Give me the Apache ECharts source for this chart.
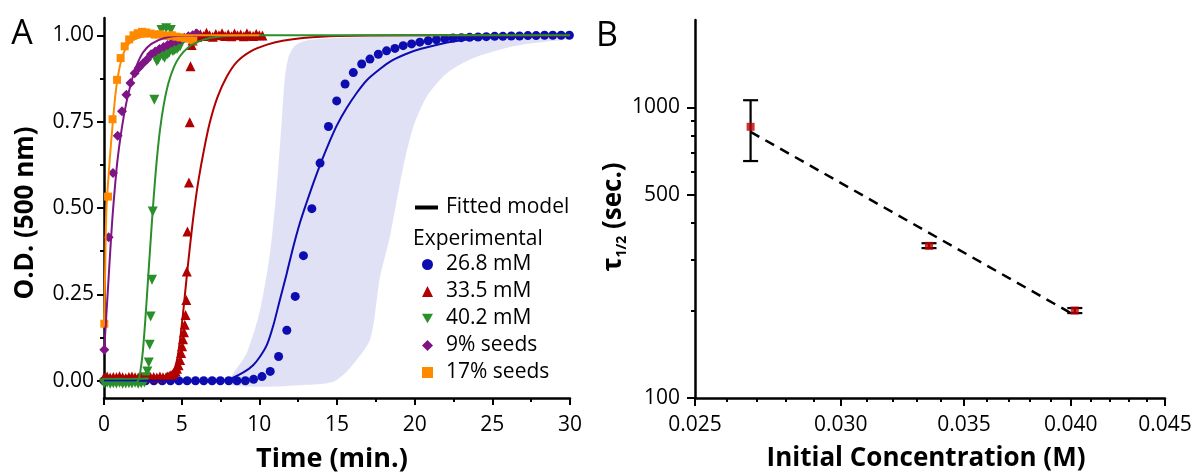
<!DOCTYPE html>
<html><head><meta charset="utf-8">
<script src="https://cdn.jsdelivr.net/npm/echarts@6/dist/echarts.min.js"></script>
<style>html,body{margin:0;padding:0;background:#fff}#c{width:1195px;height:473px}</style>
</head><body><div id="c"></div><script>
// ---------- Panel A data ----------
const seriesNames = ['26.8 mM', '33.5 mM', '40.2 mM', '9% seeds', '17% seeds'];
// 26.8 mM experimental
const blueT = [0,0.54,1.07,1.61,2.14,2.68,3.21,3.75,4.28,4.82,5.35,5.89,6.42,6.96,7.49,8.03,8.56,9.10,9.63,10.17,10.70,11.24,11.77,12.31,12.84,13.38,13.91,14.45,14.98,15.52,16.05,16.59,17.12,17.66,18.19,18.73,19.26,19.80,20.33,20.87,21.40,21.94,22.47,23.01,23.54,24.08,24.61,25.15,25.68,26.22,26.75,27.29,27.82,28.36,28.89,29.43,29.96];
const blueV = [0,0,0,0,0,0,0,0,0,0,0,0,0,0,0,0,0,0,0.004,0.012,0.027,0.07,0.146,0.244,0.362,0.498,0.63,0.736,0.81,0.859,0.892,0.917,0.931,0.945,0.955,0.962,0.97,0.975,0.98,0.984,0.987,0.99,0.992,0.993,0.994,0.995,0.996,0.997,0.997,0.998,0.998,0.999,0.999,1.0,1.0,1.0,1.0];
// 33.5 mM experimental
const redT = [0,0.2,0.4,0.6,0.8,1.0,1.2,1.4,1.6,1.8,2.0,2.2,2.4,2.6,2.8,3.0,3.2,3.4,3.6,3.8,4.0,4.1,4.2,4.3,4.4,4.5,4.6,4.7,4.8,4.9,4.97,5.03,5.09,5.15,5.2,5.25,5.3,5.33,5.37,5.47,5.52,5.57,5.64,5.7,5.8,5.9,6.0,6.2,6.4,6.6,6.8,7.0,7.2,7.4,7.6,7.8,8.0,8.2,8.4,8.6,8.8,9.0,9.2,9.4,9.6,9.8,10.0,10.2];
const redV = [0.01,0.012,0.009,0.011,0.01,0.013,0.01,0.008,0.011,0.012,0.01,0.009,0.011,0.01,0.012,0.01,0.011,0.009,0.012,0.01,0.011,0.012,0.014,0.016,0.019,0.023,0.028,0.035,0.045,0.06,0.08,0.1,0.12,0.14,0.162,0.19,0.234,0.316,0.432,0.574,0.748,0.91,0.972,0.985,1.0,1.005,0.995,1.003,0.998,1.007,1.0,0.996,1.004,1.0,1.006,0.998,1.003,0.997,1.005,1.0,1.002,0.997,1.006,1.0,0.998,1.004,1.0,0.999];
// 40.2 mM experimental
const greenT = [0,0.2,0.4,0.6,0.8,1.0,1.2,1.4,1.6,1.8,2.0,2.2,2.4,2.6,2.7,2.79,2.88,2.94,3.0,3.09,3.14,3.24,3.3,3.4,3.5,3.6,3.7,3.8,3.9,4.0,4.1,4.2,4.3,4.4,4.5,4.6,4.7,4.8,4.9];
const greenV = [-0.008,-0.006,-0.009,-0.007,-0.008,-0.006,-0.009,-0.008,-0.007,-0.008,-0.006,-0.009,-0.007,-0.005,0.01,0.027,0.053,0.104,0.186,0.292,0.49,0.813,0.935,0.925,0.93,0.94,1.015,0.94,0.935,1.02,0.945,0.95,1.015,0.955,0.955,0.96,0.96,0.965,0.968];
// 9% seeds experimental
const purpleT = [0.02,0.3,0.58,0.88,1.16,1.44,1.7,1.97,2.23,2.5,2.77,3.03,3.3,3.57,3.83,4.1,4.37,4.63,4.9,5.17,5.43,5.7,5.97];
const purpleV = [0.09,0.415,0.601,0.709,0.78,0.828,0.862,0.89,0.905,0.918,0.93,0.945,0.953,0.96,0.966,0.972,0.978,0.983,0.988,0.993,0.997,1.0,1.005];
// 17% seeds experimental
const orangeT = [0.02,0.26,0.55,0.84,1.07,1.33,1.62,1.9,2.17,2.45,2.72,3.0,3.27,3.55,3.82,4.1,4.37,4.65,4.92,5.2,5.47,5.75];
const orangeV = [0.165,0.533,0.757,0.871,0.934,0.968,0.988,1.0,1.006,1.01,1.008,1.005,1.002,1.003,1.0,0.998,1.0,0.996,0.994,0.992,0.99,0.985];

// fitted model curves
const fitBlueT = [0,7.0,8.0,9.0,9.6,10.05,10.5,10.9,11.3,11.76,12.2,12.6,13.0,13.5,14.0,14.5,15.0,15.63,16.3,16.92,17.7,18.42,19.4,20.35,22.49,25.29,30];
const fitBlueV = [0,0,0.004,0.025,0.045,0.07,0.105,0.16,0.23,0.31,0.39,0.455,0.51,0.575,0.635,0.69,0.74,0.79,0.835,0.87,0.9,0.924,0.945,0.96,0.982,0.994,1.0];
const fitRedT = [0,4.0,4.3,4.5,4.7,4.9,5.1,5.3,5.5,5.7,5.9,6.1,6.4,6.8,7.3,7.9,8.6,9.5,10.5,11.5,12.8,15,20,30];
const fitRedV = [0.012,0.012,0.016,0.03,0.06,0.12,0.2,0.29,0.375,0.455,0.525,0.585,0.66,0.745,0.82,0.88,0.925,0.955,0.973,0.984,0.992,0.998,1.0,1.0];
const fitGreenT = [0,2.0,2.2,2.35,2.5,2.65,2.8,2.95,3.1,3.25,3.4,3.6,3.85,4.15,4.5,4.9,5.4,6.0,6.8,8.0,10,30];
const fitGreenV = [-0.005,-0.005,0.0,0.03,0.085,0.17,0.27,0.37,0.47,0.56,0.64,0.725,0.8,0.862,0.908,0.94,0.964,0.98,0.992,0.998,1.0,1.0];
const fitPurpleT = [0,0.15,0.3,0.45,0.6,0.86,1.16,1.44,1.76,2.08,2.51,3.05,3.9,5.2,7,10];
const fitPurpleV = [0.08,0.19,0.3,0.41,0.505,0.635,0.735,0.805,0.865,0.91,0.95,0.975,0.992,0.999,1.0,1.0];
const fitOrangeT = [0,0.08,0.15,0.37,0.58,0.8,1.12,1.55,2.19,3.48,5,10];
const fitOrangeV = [0.16,0.33,0.49,0.64,0.755,0.852,0.929,0.973,0.992,0.999,1.0,1.0];

// uncertainty band of the 26.8 mM model (outline, going round)
const bandT = [8.1,9.19,10.05,10.69,11.12,11.44,11.65,11.9,12.3,13.05,16,20.3,30,30,28.5,26.35,23.78,22.07,20.78,19.92,19.27,18.42,17.77,17.13,15.84,14.9,13.9];
const bandV = [-0.01,0.08,0.205,0.37,0.56,0.75,0.88,0.94,0.97,0.985,0.994,0.998,1.0,0.989,0.982,0.968,0.934,0.89,0.823,0.736,0.62,0.42,0.3,0.119,0.037,0.0,-0.01];

const yTicksA = [0, 0.25, 0.5, 0.75, 1.0];
const yMinorA = [0.125, 0.375, 0.625, 0.875];

// ---------- Panel B data ----------
const concB = [0.0268, 0.0335, 0.0402];
const tauB = [858, 334, 200];
const tauLo = [654, 328, 196];
const tauHi = [1059, 341, 204];
const fitConc = [0.0268, 0.0400];
const fitTau = [824, 196];
const xTicksB = [0.025, 0.030, 0.035, 0.040, 0.045];
const xMinorB = [0.026,0.027,0.028,0.029,0.031,0.032,0.033,0.034,0.036,0.037,0.038,0.039,0.041,0.042,0.043,0.044];
const yTicksB = [100, 500, 1000];
const yMinorB = [200, 300, 400, 600, 700, 800, 900];

// ---------- styling ----------
const FONT = '"Open Sans", "Noto Sans", sans-serif';
const DOWN_TRI = 'path://M0,0L20,0L10,17Z';
const colors = ['#0c0cb0', '#b00000', '#2b8f2b', '#7f1585', '#ff8a00'];
const symbols = ['circle', 'triangle', DOWN_TRI, 'diamond', 'rect'];
const symSize = [9, 10, 10, 10, 8];
const labelStyle = {color: '#000', fontSize: 21, fontFamily: FONT};
const axLine = {show: true, onZero: false, lineStyle: {color: '#000', width: 2.5}};

const zip = (a, b) => a.map((v, i) => [v, b[i]]);
const expT = [blueT, redT, greenT, purpleT, orangeT];
const expV = [blueV, redV, greenV, purpleV, orangeV];
const fitT = [fitBlueT, fitRedT, fitGreenT, fitPurpleT, fitOrangeT];
const fitV = [fitBlueV, fitRedV, fitGreenV, fitPurpleV, fitOrangeV];

const series = [];
series.push({
  type: 'custom', xAxisIndex: 0, yAxisIndex: 0, silent: true, z: 1,
  data: zip(bandT, bandV),
  renderItem: function (params, api) {
    if (params.dataIndex !== 0) return null;
    const pts = bandT.map((t, i) => api.coord([t, bandV[i]]));
    return {type: 'polygon', shape: {points: pts, smooth: 0.25}, style: {fill: '#e1e1f5'}};
  }
});
for (let i = 0; i < 5; i++) {
  series.push({
    type: 'scatter', name: seriesNames[i], xAxisIndex: 0, yAxisIndex: 0, z: 2,
    data: zip(expT[i], expV[i]), symbol: symbols[i], symbolSize: symSize[i],
    itemStyle: {color: colors[i], opacity: 1}
  });
}
for (let i = 0; i < 5; i++) {
  series.push({
    type: 'line', name: 'fit_' + i, xAxisIndex: 0, yAxisIndex: 0, z: 3,
    data: zip(fitT[i], fitV[i]), showSymbol: false, symbol: 'none', smooth: 0.3,
    lineStyle: {color: colors[i], width: 2}, itemStyle: {color: colors[i]}
  });
}
series.push({type: 'line', name: 'Fitted model', xAxisIndex: 0, yAxisIndex: 0, data: [], symbol: 'none',
  lineStyle: {color: '#000', width: 3}, itemStyle: {color: '#000'}});

// Panel B
series.push({
  type: 'custom', xAxisIndex: 1, yAxisIndex: 2, z: 3,
  data: concB.map((c, i) => [c, tauLo[i], tauHi[i]]),
  encode: {x: 0, y: [1, 2]},
  renderItem: function (params, api) {
    const x = api.value(0);
    const pL = api.coord([x, api.value(1)]);
    const pH = api.coord([x, api.value(2)]);
    const w = 7.5;
    const st = {stroke: '#000', lineWidth: 2.2};
    return {type: 'group', children: [
      {type: 'line', shape: {x1: pL[0], y1: pL[1], x2: pH[0], y2: pH[1]}, style: st},
      {type: 'line', shape: {x1: pL[0] - w, y1: pL[1], x2: pL[0] + w, y2: pL[1]}, style: st},
      {type: 'line', shape: {x1: pH[0] - w, y1: pH[1], x2: pH[0] + w, y2: pH[1]}, style: st}
    ]};
  }
});
series.push({
  type: 'line', xAxisIndex: 1, yAxisIndex: 2, z: 4, data: zip(fitConc, fitTau), symbol: 'none',
  lineStyle: {color: '#000', width: 2.5, type: [10, 7]}
});
series.push({
  type: 'scatter', xAxisIndex: 1, yAxisIndex: 2, z: 5, data: zip(concB, tauB), symbol: 'rect', symbolSize: 8,
  itemStyle: {color: '#c00000'}
});

const option = {
  animation: false,
  backgroundColor: '#fff',
  grid: [
    {left: 104, width: 466, top: 18, height: 380},
    {left: 695, width: 470, top: 20, height: 378}
  ],
  xAxis: [
    {gridIndex: 0, type: 'value', min: 0, max: 30, interval: 5, position: 'bottom',
      axisLine: axLine, axisTick: {length: 7, lineStyle: {color: '#000', width: 2}},
      minorTick: {show: true, splitNumber: 2, length: 4, lineStyle: {color: '#000', width: 2}},
      splitLine: {show: false}, minorSplitLine: {show: false},
      axisLabel: Object.assign({margin: 17}, labelStyle)},
    {gridIndex: 1, type: 'log', logBase: 10, min: 0.025, max: 0.045, position: 'bottom',
      axisLine: axLine, axisTick: {customValues: xTicksB, length: 8, lineStyle: {color: '#000', width: 2}},
      splitLine: {show: false},
      axisLabel: Object.assign({customValues: xTicksB, margin: 17, formatter: v => (+v).toFixed(3)}, labelStyle)},
    {gridIndex: 1, type: 'log', logBase: 10, min: 0.025, max: 0.045, position: 'bottom', offset: 0,
      axisLine: {show: false}, axisTick: {customValues: xMinorB, length: 4, lineStyle: {color: '#000', width: 2}},
      splitLine: {show: false}, axisLabel: {show: false}}
  ],
  yAxis: [
    {gridIndex: 0, type: 'value', min: -0.05, max: 1.05, position: 'left',
      axisLine: axLine, axisTick: {customValues: yTicksA, length: 7, lineStyle: {color: '#000', width: 2}},
      splitLine: {show: false},
      axisLabel: Object.assign({customValues: yTicksA, margin: 10, formatter: v => (+v).toFixed(2)}, labelStyle)},
    {gridIndex: 0, type: 'value', min: -0.05, max: 1.05, position: 'left', offset: 0,
      axisLine: {show: false}, axisTick: {customValues: yMinorA, length: 4, lineStyle: {color: '#000', width: 2}},
      splitLine: {show: false}, axisLabel: {show: false}},
    {gridIndex: 1, type: 'log', logBase: 10, min: 100, max: 2000, position: 'left',
      axisLine: axLine, axisTick: {customValues: yTicksB, length: 8, lineStyle: {color: '#000', width: 2}},
      splitLine: {show: false},
      axisLabel: Object.assign({customValues: yTicksB, margin: 15, formatter: v => String(Math.round(v))}, labelStyle)},
    {gridIndex: 1, type: 'log', logBase: 10, min: 100, max: 2000, position: 'left', offset: 0,
      axisLine: {show: false}, axisTick: {customValues: yMinorB, length: 4, lineStyle: {color: '#000', width: 2}},
      splitLine: {show: false}, axisLabel: {show: false}}
  ],
  legend: [
    {data: ['Fitted model'], orient: 'vertical', left: 415, top: 197, padding: 0, icon: 'rect', itemWidth: 23, itemHeight: 4,
      selectedMode: false, textStyle: {fontSize: 21, fontFamily: FONT, color: '#000', lineHeight: 21, padding: [0, 0, 0, 3]}},
    {data: seriesNames, orient: 'vertical', left: 422, top: 254, padding: 0, itemWidth: 11, itemHeight: 11, itemGap: 6,
      selectedMode: false, textStyle: {fontSize: 21, fontFamily: FONT, color: '#000', lineHeight: 21, padding: [0, 0, 0, 8]}}
  ],
  graphic: [
    {type: 'text', x: 22, y: 34, style: {text: 'A', fontSize: 34, fontFamily: FONT, fill: '#000', align: 'center', verticalAlign: 'middle'}},
    {type: 'text', x: 607, y: 36, style: {text: 'B', fontSize: 34, fontFamily: FONT, fill: '#000', align: 'center', verticalAlign: 'middle'}},
    {type: 'text', x: 413, y: 239, style: {text: 'Experimental', fontSize: 21, fontFamily: FONT, fill: '#000', align: 'left', verticalAlign: 'middle'}},
    {type: 'text', x: 26, y: 213, rotation: Math.PI / 2, style: {text: 'O.D. (500 nm)', fontSize: 26, fontWeight: 'bold', fontFamily: FONT, fill: '#000', align: 'center', verticalAlign: 'middle'}},
    {type: 'text', x: 332, y: 459, style: {text: 'Time (min.)', fontSize: 27, fontWeight: 'bold', fontFamily: FONT, fill: '#000', align: 'center', verticalAlign: 'middle'}},
    {type: 'text', x: 926, y: 459, style: {text: 'Initial Concentration (M)', fontSize: 26, fontWeight: 'bold', fontFamily: FONT, fill: '#000', align: 'center', verticalAlign: 'middle'}},
    {type: 'text', x: 614, y: 217, rotation: Math.PI / 2, style: {
      text: '{a|τ}{b|1/2}{a| (sec.)}', align: 'center', verticalAlign: 'middle', fill: '#000',
      rich: {
        a: {fontSize: 26, fontWeight: 'bold', fontFamily: FONT, fill: '#000', lineHeight: 30, verticalAlign: 'middle'},
        b: {fontSize: 14, fontWeight: 'bold', fontFamily: FONT, fill: '#000', lineHeight: 30, verticalAlign: 'bottom'}
      }}}
  ],
  series: series
};
const chart = echarts.init(document.getElementById('c'), null, {renderer: 'canvas'});
chart.setOption(option);
</script></body></html>
